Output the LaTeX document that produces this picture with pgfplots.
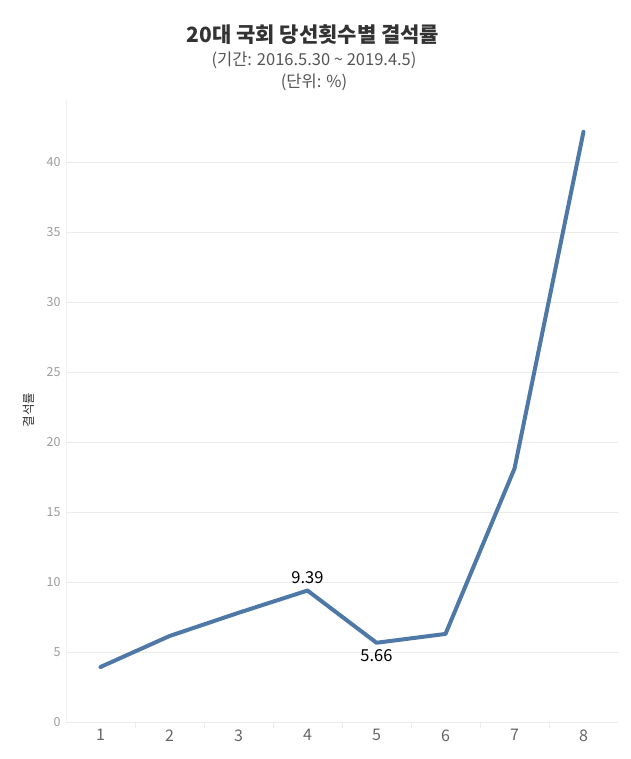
\documentclass[border=0pt]{standalone}
\usepackage{fontspec}
\setmainfont{Noto Sans CJK KR}
\usepackage{pgfplots}
\pgfplotsset{compat=1.18}
\definecolor{lineblue}{HTML}{4E79A7}
\definecolor{gridgray}{HTML}{EBEBEB}
\definecolor{ticklab}{HTML}{9A9A9A}
\definecolor{xlab}{HTML}{666666}
\definecolor{titlec}{HTML}{333333}
\definecolor{subc}{HTML}{555555}
\begin{document}
\begin{tikzpicture}[x=1pt,y=1pt]
\path[use as bounding box] (0,0) rectangle (630,759);
\begin{axis}[
  at={(66pt,37pt)}, anchor=origin,
  scale only axis, width=552pt, height=622pt,
  xmin=0.5, xmax=8.5, ymin=0, ymax=44.43,
  axis line style={draw=none},
  xtick={1,...,8},
  ytick={0,5,...,40},
  major tick length=0pt,
  tick style={draw=none},
  ymajorgrids,
  grid style={gridgray, line width=0.6pt},
  clip=false,
  /pgf/number format/assume math mode=true,
  xticklabel style={font=\fontsize{16}{18}\selectfont, text=xlab, yshift=-4pt},
  yticklabel style={font=\fontsize{12.5}{14}\selectfont, text=ticklab, xshift=-2pt},
]
\draw[gridgray, line width=0.8pt] (axis cs:0.5,0) -- (axis cs:8.5,0);
\draw[gridgray!70, line width=0.5pt] (axis cs:0.5,0) -- (axis cs:0.5,44.43);
\pgfplotsinvokeforeach{1.5,2.5,3.5,4.5,5.5,6.5,7.5}{
  \draw[gridgray, line width=0.6pt] (axis cs:#1,0) -- ([yshift=-6pt]axis cs:#1,0);
}
\addplot[lineblue, line width=4pt, line join=round, line cap=round, mark=none]
  coordinates {(1,3.93) (2,6.14) (3,7.80) (4,9.39) (5,5.66) (6,6.29) (7,18.1) (8,42.16)};
\node[font=\fontsize{16.5}{18}\selectfont, anchor=south] at (axis cs:4,9.39) [yshift=3pt] {9.39};
\node[font=\fontsize{16.5}{18}\selectfont, anchor=north] at (axis cs:5,5.66) [yshift=-3pt] {5.66};
\end{axis}
\node[font=\bfseries\fontsize{21}{24}\selectfont, text=titlec] at (313,724) {20대 국회 당선횟수별 결석률};
\node[font=\fontsize{16.5}{19}\selectfont, text=subc] at (314,699) {(기간: 2016.5.30 \textasciitilde{} 2019.4.5)};
\node[font=\fontsize{16.5}{19}\selectfont, text=subc] at (314,677) {(단위: \%)};
\node[font=\fontsize{12.5}{14}\selectfont, text=titlec, rotate=90] at (29,349) {결석률};
\end{tikzpicture}
\end{document}
